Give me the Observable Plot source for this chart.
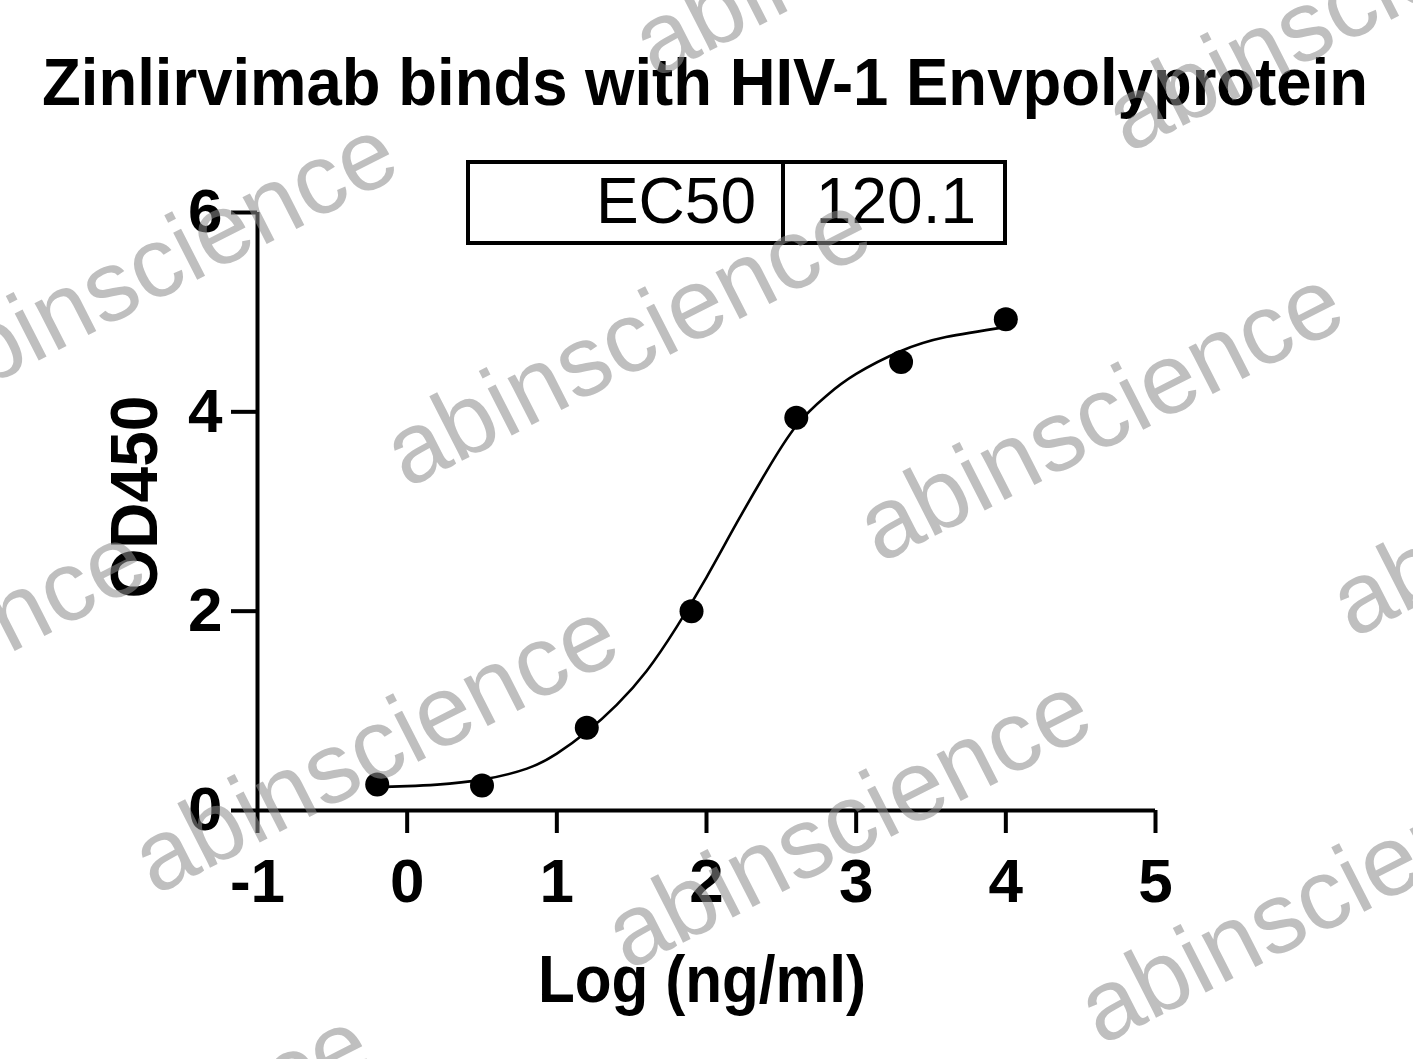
<!DOCTYPE html>
<html>
<head>
<meta charset="utf-8">
<script src="https://cdn.jsdelivr.net/npm/d3@7"></script>
<script src="https://cdn.jsdelivr.net/npm/@observablehq/plot@0.6"></script>
<style>
  html, body { margin: 0; padding: 0; background: #fff; }
  #wrap { position: relative; width: 1413px; height: 1059px; overflow: hidden; background: #fff;
          font-family: "Liberation Sans", Arial, Helvetica, sans-serif; }
  #wrap > svg { position: absolute; left: 0; top: 0; }
</style>
</head>
<body>
<div id="wrap"></div>
<script>
// ---- chart content ----
const titleText = "Zinlirvimab binds with HIV-1 Envpolyprotein";
const xLabel = "Log (ng/ml)";
const yLabel = "OD450";
const xTicks = [-1, 0, 1, 2, 3, 4, 5];
const yTicks = [0, 2, 4, 6];

// measured points (log concentration, OD450)
const logConc = [-0.2, 0.5, 1.2, 1.9, 2.6, 3.3, 4.0];
const od450   = [0.26, 0.25, 0.83, 2.00, 3.94, 4.50, 4.93];

// fitted curve
const fitLogConc = [-0.2, 0.0, 0.2, 0.5, 0.8, 1.0, 1.2, 1.4, 1.6, 1.8, 2.0, 2.2, 2.4, 2.6, 2.8, 3.0, 3.3, 3.6, 4.0];
const fitOd450   = [0.235, 0.245, 0.26, 0.31, 0.42, 0.57, 0.79, 1.06, 1.40, 1.84, 2.34, 2.88, 3.40, 3.86, 4.16, 4.38, 4.61, 4.75, 4.85];

// results table
const tableHeader = "EC50";
const tableValue = "120.1";

const watermarkText = "abinscience";

// ---- build ----
const points = logConc.map((x, i) => ({x, y: od450[i]}));
const fit = fitLogConc.map((x, i) => ({x, y: fitOd450[i]}));

const W = 1413, H = 1059;
const FONT = "Liberation Sans, Arial, Helvetica, sans-serif";

const chart = Plot.plot({
  width: W, height: H,
  marginLeft: 257, marginRight: 258, marginTop: 212, marginBottom: 249,
  style: {fontFamily: FONT, background: "transparent", color: "black", fontWeight: "bold", overflow: "visible"},
  x: {domain: [-1, 5]},
  y: {domain: [0, 6]},
  marks: [
    Plot.axisX({ticks: xTicks, tickSize: 23, tickPadding: 24, strokeWidth: 4, fontSize: 62, fontWeight: "bold",
                tickFormat: d => String(d), label: null}),
    Plot.axisY({ticks: yTicks, tickSize: 26, tickPadding: 9, strokeWidth: 4, fontSize: 62, fontWeight: "bold",
                tickFormat: d => String(d), label: null}),
    Plot.ruleX([-1], {strokeWidth: 4}),
    Plot.ruleY([0], {strokeWidth: 4}),
    Plot.line(fit, {x: "x", y: "y", curve: "natural", stroke: "black", strokeWidth: 2.6}),
    Plot.dot(points, {x: "x", y: "y", r: 12, fill: "black", stroke: "none"})
  ]
});

const wrap = document.getElementById("wrap");
wrap.appendChild(chart);

// overlay: title, axis titles, results table, watermark
const svg = d3.select(wrap).append("svg")
  .attr("width", W).attr("height", H).attr("viewBox", `0 0 ${W} ${H}`)
  .style("font-family", FONT).style("pointer-events", "none");

svg.append("text").attr("x", 705).attr("y", 105).attr("text-anchor", "middle")
  .attr("font-size", 67).attr("font-weight", "bold").attr("fill", "black")
  .attr("textLength", 1326).attr("lengthAdjust", "spacingAndGlyphs").text(titleText);

svg.append("text").attr("transform", "translate(157,497) rotate(-90)").attr("text-anchor", "middle")
  .attr("font-size", 67).attr("font-weight", "bold").attr("fill", "black")
  .attr("textLength", 203).attr("lengthAdjust", "spacingAndGlyphs").text(yLabel);

svg.append("text").attr("x", 702).attr("y", 1002).attr("text-anchor", "middle")
  .attr("font-size", 67).attr("font-weight", "bold").attr("fill", "black")
  .attr("textLength", 328).attr("lengthAdjust", "spacingAndGlyphs").text(xLabel);

const tbl = svg.append("g");
tbl.append("rect").attr("x", 468).attr("y", 162).attr("width", 537).attr("height", 81)
  .attr("fill", "none").attr("stroke", "black").attr("stroke-width", 4);
tbl.append("line").attr("x1", 783).attr("x2", 783).attr("y1", 162).attr("y2", 243)
  .attr("stroke", "black").attr("stroke-width", 4);
tbl.append("text").attr("x", 756).attr("y", 223).attr("text-anchor", "end")
  .attr("font-size", 64).attr("fill", "black").text(tableHeader);
tbl.append("text").attr("x", 976).attr("y", 223).attr("text-anchor", "end")
  .attr("font-size", 64).attr("fill", "black").text(tableValue);

// watermark lattice
const wmCenters = [[890, -41], [1363, 34], [169, 294], [642, 369], [1115, 444], [1588, 519],
                   [-83, 701], [390, 776], [863, 851], [1336, 926], [142, 1186]];
const wm = svg.append("g").attr("fill", "rgb(140,140,140)").attr("fill-opacity", 0.56);
wmCenters.forEach(([cx, cy]) => {
  wm.append("text").attr("transform", `translate(${cx},${cy}) rotate(-27)`)
    .attr("text-anchor", "middle").attr("font-size", 100).text(watermarkText);
});
</script>
</body>
</html>
